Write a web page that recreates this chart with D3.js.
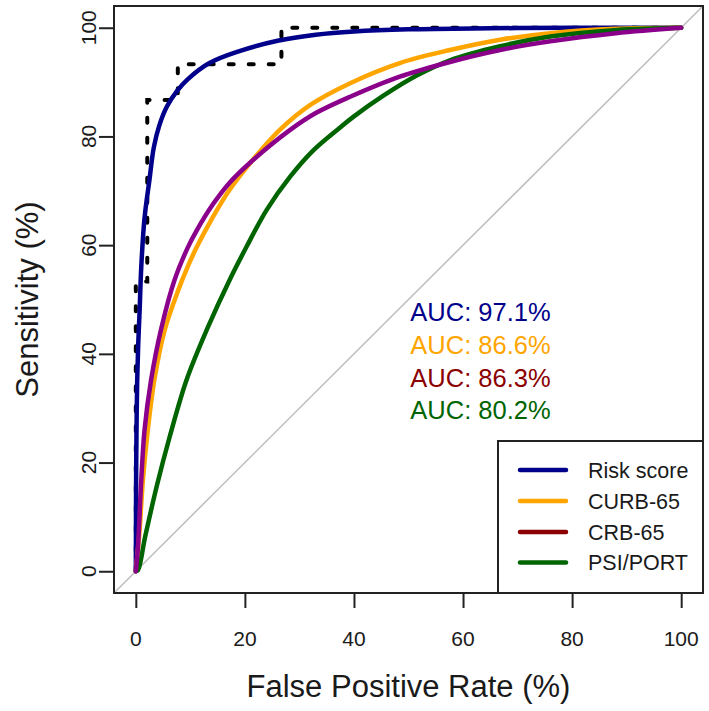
<!DOCTYPE html>
<html>
<head>
<meta charset="utf-8">
<script src="https://cdn.jsdelivr.net/npm/d3@7"></script>
<style>
  html, body { margin: 0; padding: 0; background: #fff; }
  svg { display: block; font-family: "Liberation Sans", Arial, sans-serif; }
</style>
</head>
<body>
<svg id="chart" width="709" height="711"></svg>
<script>
// ---------- data (FPR %, Sensitivity %) ----------
const seriesNames = ["Risk score", "CURB-65", "CRB-65", "PSI/PORT"];
const legendColors = ["#00008B", "#FFA500", "#8B0000", "#006400"];
const curveColors  = ["#00008B", "#FFA500", "#8B008B", "#006400"];
const aucLabels = ["AUC: 97.1%", "AUC: 86.6%", "AUC: 86.3%", "AUC: 80.2%"];
const xTicks = [0, 20, 40, 60, 80, 100];
const yTicks = [0, 20, 40, 60, 80, 100];

const riskScoreFpr  = [0, 0.02, 0.05, 0.12, 0.25, 0.45, 0.7, 1, 1.6, 2.5, 3.3, 4.3, 5.7, 7.5, 9.5, 13.5, 19, 26, 33, 40, 50, 65, 80, 100];
const riskScoreSens = [0, 6, 16, 25, 35, 42, 48, 56, 65, 72, 78, 82, 85.5, 88.3, 90.5, 93.5, 95.7, 97.6, 98.7, 99.3, 99.7, 99.9, 100, 100];

const curbFpr  = [0, 0.3, 0.7, 1.3, 2.2, 3.4, 5.3, 7.7, 9.5, 11.1, 14.2, 17.2, 21.2, 26.4, 32, 39.3, 48.4, 57.6, 66.8, 76, 88, 100];
const curbSens = [0, 3, 7.6, 16.8, 26, 35.2, 44.4, 51.5, 56, 59.5, 65.3, 70.2, 75.4, 81.2, 85.8, 89.8, 93.5, 95.9, 97.8, 99, 99.8, 100];

const crbFpr  = [0, 0.2, 0.4, 1, 1.6, 2.8, 4.6, 7.1, 9.5, 11.1, 14.2, 17.2, 21.2, 28.3, 33, 39.3, 48.4, 57.6, 66.8, 76, 88, 100];
const crbSens = [0, 2, 4.5, 16.8, 26, 35.2, 44.4, 53.6, 59.5, 62.6, 67.6, 71.5, 75.4, 81.2, 84.3, 87.3, 91, 93.7, 95.9, 97.5, 99, 100];

const psiFpr  = [0, 0.4, 1.7, 3.8, 6.2, 9.3, 13, 17.2, 20.3, 24, 28.3, 32.5, 37.4, 40, 45.4, 51.5, 57.6, 66.8, 76, 88.2, 100];
const psiSens = [0, 0.2, 6.3, 15.5, 24.7, 35.2, 44.4, 53.6, 59.7, 66.5, 72.6, 77.4, 81.6, 83.7, 87.5, 91.2, 94.0, 96.6, 98.4, 99.6, 100];

// empirical (step) ROC of the risk score
const empiricalFpr  = [0, 0, 2.1, 2.1, 7.7, 7.7, 26.7, 26.7, 100];
const empiricalSens = [0, 53.3, 53.3, 86.7, 86.7, 93.3, 93.3, 100, 100];

// ---------- layout ----------
const svg = d3.select("#chart");
const L = 114, R = 703, T = 6, B = 593;
const x = d3.scaleLinear().domain([-4, 104]).range([L, R]);
const y = d3.scaleLinear().domain([-4, 104]).range([B, T]);

const zip = (a, b) => a.map((v, i) => [v, b[i]]);
const curves = [zip(riskScoreFpr, riskScoreSens), zip(curbFpr, curbSens), zip(crbFpr, crbSens), zip(psiFpr, psiSens)];

svg.append("defs").append("clipPath").attr("id", "plotclip")
  .append("rect").attr("x", L).attr("y", T).attr("width", R - L).attr("height", B - T);

const plot = svg.append("g").attr("clip-path", "url(#plotclip)");

// diagonal reference line
plot.append("line")
  .attr("x1", x(-4)).attr("y1", y(-4)).attr("x2", x(104)).attr("y2", y(104))
  .attr("stroke", "#BEBEBE").attr("stroke-width", 1.5);

// empirical dashed step line
const stepLine = d3.line().x(d => x(d[0])).y(d => y(d[1]));
plot.append("path")
  .attr("d", stepLine(zip(empiricalFpr, empiricalSens)))
  .attr("fill", "none").attr("stroke", "#000").attr("stroke-width", 4)
  .attr("stroke-dasharray", "5,15").attr("stroke-linecap", "round");

// smooth curves
const smooth = d3.line().x(d => x(d[0])).y(d => y(d[1])).curve(d3.curveCatmullRom.alpha(0.5));
const drawOrder = [0, 1, 3, 2];
drawOrder.forEach(i => {
  plot.append("path")
    .attr("d", smooth(curves[i]))
    .attr("fill", "none").attr("stroke", curveColors[i]).attr("stroke-width", 4.5)
    .attr("stroke-linecap", "round").attr("stroke-linejoin", "round");
});

// box
svg.append("rect").attr("x", L).attr("y", T).attr("width", R - L).attr("height", B - T)
  .attr("fill", "none").attr("stroke", "#222").attr("stroke-width", 2);

// axes
const xAxis = svg.append("g").attr("transform", `translate(0,${B})`)
  .call(d3.axisBottom(x).tickValues(xTicks).tickSize(15).tickFormat(""));
xAxis.select(".domain").remove();
xAxis.selectAll(".tick line").attr("stroke", "#222").attr("stroke-width", 2);

const yAxis = svg.append("g").attr("transform", `translate(${L},0)`)
  .call(d3.axisLeft(y).tickValues(yTicks).tickSize(15).tickFormat(""));
yAxis.select(".domain").remove();
yAxis.selectAll(".tick line").attr("stroke", "#222").attr("stroke-width", 2);

svg.append("g").selectAll("text").data(xTicks).join("text")
  .attr("x", d => x(d)).attr("y", 646)
  .attr("text-anchor", "middle").attr("font-size", 21).attr("fill", "#1a1a1a")
  .text(d => d);

svg.append("g").selectAll("text").data(yTicks).join("text")
  .attr("transform", d => `translate(96,${y(d)}) rotate(-90)`)
  .attr("text-anchor", "middle").attr("font-size", 21).attr("fill", "#1a1a1a")
  .text(d => d);

// axis titles
svg.append("text").attr("x", (L + R) / 2).attr("y", 697)
  .attr("text-anchor", "middle").attr("font-size", 31).attr("fill", "#1a1a1a")
  .text("False Positive Rate (%)");
svg.append("text").attr("transform", `translate(38,${(T + B) / 2}) rotate(-90)`)
  .attr("text-anchor", "middle").attr("font-size", 31).attr("fill", "#1a1a1a")
  .text("Sensitivity (%)");

// AUC annotations
const aucBase = [321, 354, 387, 419];
svg.append("g").selectAll("text").data(aucLabels).join("text")
  .attr("x", 480.5).attr("y", (d, i) => aucBase[i])
  .attr("text-anchor", "middle").attr("font-size", 25.5)
  .attr("fill", (d, i) => legendColors[i])
  .text(d => d);

// legend
const lg = svg.append("g");
lg.append("rect").attr("x", 498).attr("y", 441).attr("width", R - 498).attr("height", B - 441)
  .attr("fill", "#fff").attr("stroke", "#222").attr("stroke-width", 2);
const rowY = [470, 501, 532, 562.5];
seriesNames.forEach((name, i) => {
  lg.append("line").attr("x1", 520).attr("x2", 566).attr("y1", rowY[i]).attr("y2", rowY[i])
    .attr("stroke", legendColors[i]).attr("stroke-width", 4.5).attr("stroke-linecap", "round");
  lg.append("text").attr("x", 588).attr("y", rowY[i] + 7.5)
    .attr("font-size", 21.5).attr("fill", "#1a1a1a").text(name);
});
</script>
</body>
</html>
